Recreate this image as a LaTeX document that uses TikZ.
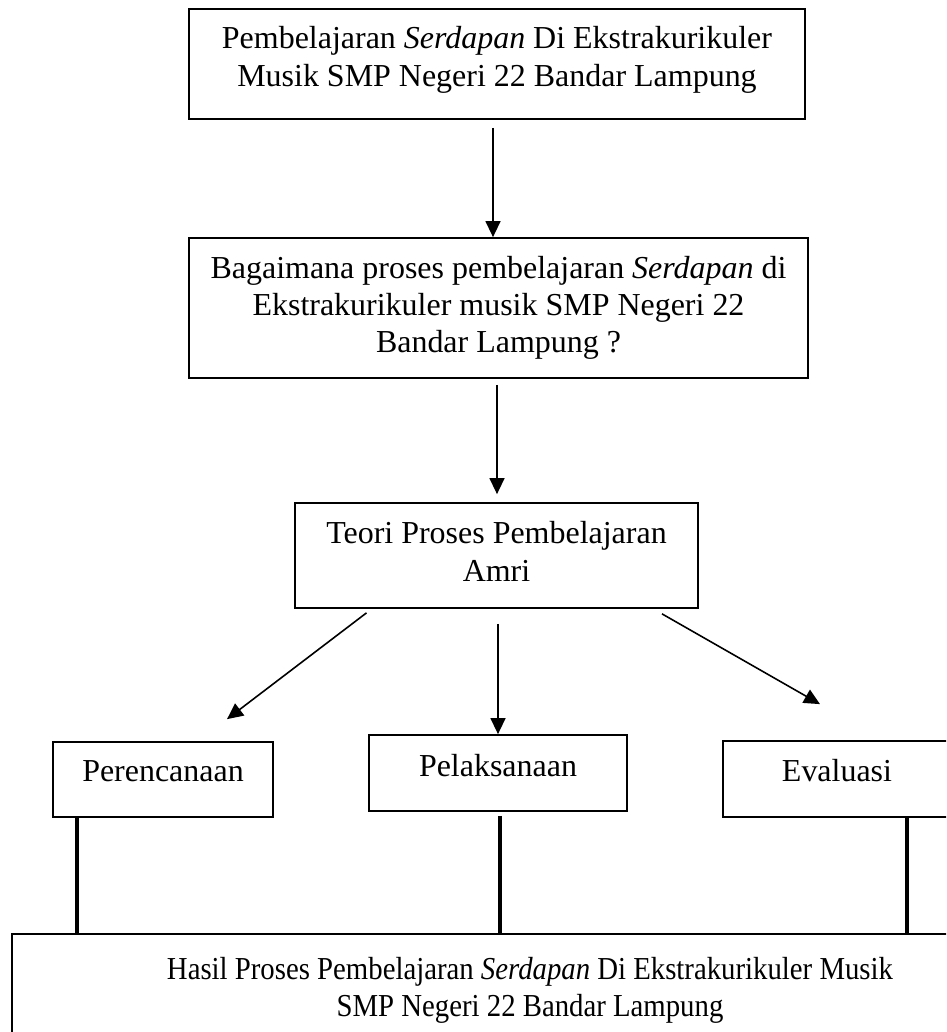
\documentclass[tikz,border=0pt]{standalone}
\usepackage{fontspec}
\setmainfont{Liberation Serif}
\newfontfamily\narrowserif[FakeStretch=0.9]{Liberation Serif}
\usetikzlibrary{arrows.meta,calc}
\newlength{\pxu}
\setlength{\pxu}{0.3754pt}

\begin{document}
\begin{tikzpicture}[
  x=0.3754pt, y=-0.3754pt,
  box/.style={draw, line width=0.65pt, inner sep=0pt, align=center,
    font=\fontsize{12pt}{14pt}\selectfont},
  arr/.style={-{Triangle[length=6pt,width=5.6pt]}, line width=0.6pt},
  bar/.style={line width=1.25pt}
]
  \useasboundingbox (0,0) rectangle (946,1032);
  \clip (0,0) rectangle (946,1032);
  \fill[white] (0,0) rectangle (946,1032);

  % main chain
  \node[box, minimum width=616*\pxu, minimum height=110*\pxu, text depth=5.6pt] (title) at (497,64)
    {Pembelajaran \textit{Serdapan} Di Ekstrakurikuler\\Musik SMP Negeri 22 Bandar Lampung};
  \node[box, minimum width=619*\pxu, minimum height=140*\pxu] (question) at (498.5,308)
    {Bagaimana proses pembelajaran \textit{Serdapan} di\\Ekstrakurikuler musik SMP Negeri 22\\Bandar Lampung ?};
  \node[box, minimum width=403*\pxu, minimum height=105*\pxu, text depth=3pt] (theory) at (496.5,555.5)
    {Teori Proses Pembelajaran\\Amri};

  % the three stages
  \node[box, minimum width=220*\pxu, minimum height=75*\pxu, text depth=6pt] (plan) at (163,779.5) {Perencanaan};
  \node[box, minimum width=258*\pxu, minimum height=76*\pxu, text depth=6pt] (exec) at (498,773) {Pelaksanaan};
  \node[box, minimum width=228*\pxu, minimum height=76*\pxu, text depth=6.8pt] (eval) at (837,779) {Evaluasi};

  \node[box, minimum width=1036*\pxu, minimum height=112*\pxu, font=\narrowserif\fontsize{12pt}{14pt}\selectfont] (result) at (530,990)
    {Hasil Proses Pembelajaran \textit{Serdapan} Di Ekstrakurikuler Musik\\SMP Negeri 22 Bandar Lampung};

  \draw[arr] ($(title.south)+(-4,8)$) -- ($(question.north)+(-5.5,0)$);
  \draw[arr] ($(question.south)+(-1.5,6)$) -- ($(theory.north)+(0.5,-8)$);
  \draw[arr] ($(theory.south)+(-130,4)$) -- ($(plan.north)+(64,-22)$);
  \draw[arr] ($(theory.south)+(1.5,15)$) -- (exec.north);
  \draw[arr] ($(theory.south)+(165.5,5)$) -- ($(eval.north)+(-17,-36)$);

  % stages down to the result
  \draw[bar] (plan.south) ++(-86,0) coordinate (pa) -- (pa |- result.north);
  \draw[bar] (exec.south) ++(2,4) coordinate (pb) -- (pb |- result.north);
  \draw[bar] (eval.south) ++(70,0) coordinate (pc) -- (pc |- result.north);
\end{tikzpicture}
\end{document}
